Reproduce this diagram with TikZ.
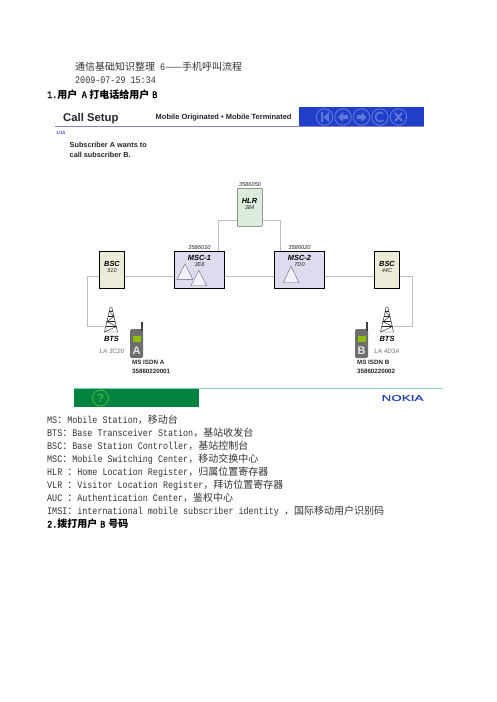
\documentclass[tikz,border=0pt]{standalone}
\usepackage{fontspec}
\setsansfont{Liberation Sans}
\newfontfamily\cnfont{Noto Sans CJK SC}
\newfontfamily\latfont[FakeStretch=0.84]{Liberation Mono}
\newfontfamily\latbold[FakeStretch=0.84,FakeBold=1.5]{Liberation Mono}
\newfontfamily\nokiafont[FakeStretch=1.6,FakeBold=1]{Liberation Sans}
\newcommand{\cn}[1]{{\cnfont #1}}
\definecolor{bluebar}{HTML}{1F3FC8}
\definecolor{navc}{HTML}{5F78DC}
\definecolor{greenbar}{HTML}{00843F}
\definecolor{linkc}{HTML}{BEBEBE}
\definecolor{txtc}{HTML}{333333}
\definecolor{nokia}{HTML}{2444B8}
\definecolor{phonec}{HTML}{6E6E6E}
\definecolor{bscfill}{HTML}{EBEBD7}
\definecolor{mscfill}{HTML}{DCDCEE}
\definecolor{hlrfill}{HTML}{DCECDC}
\definecolor{screenc}{HTML}{8FBF00}
\tikzset{
  doc/.style={anchor=base west,inner sep=0pt,text=txtc,font=\fontsize{10}{10}\latfont},
  head/.style={anchor=base west,inner sep=0pt,text=black,font=\fontsize{10}{10}\latbold},
  netbox/.style={draw=black,line width=.7pt,fill=#1,inner sep=0pt,minimum height=37pt},
  nettitle/.style={inner sep=0pt,font=\sffamily\bfseries\itshape\fontsize{7.4}{7.4}\selectfont},
  netsub/.style={inner sep=0pt,font=\sffamily\itshape\fontsize{5.6}{5.6}\selectfont,text=black!85},
  addr/.style={inner sep=0pt,font=\sffamily\itshape\fontsize{5.7}{5.7}\selectfont,text=black!85},
  link/.style={draw=linkc,line width=.6pt},
  tri/.style={draw=black!60,fill=blue!5,line width=.4pt},
  towerline/.style={draw=black!85,line width=.45pt},
  small/.style={inner sep=0pt,anchor=base west,font=\sffamily\bfseries\fontsize{6.2}{6.2}\selectfont,text=black!85},
  nav/.style={circle,draw=navc,line width=.9pt,minimum size=16.5pt,inner sep=0pt},
  btslabel/.style={inner sep=0pt,font=\sffamily\itshape\bfseries\fontsize{7.5}{7.5}\selectfont},
  lalabel/.style={inner sep=0pt,font=\sffamily\itshape\fontsize{6.3}{6.3}\selectfont,text=black!55},
  hdrtext/.style={inner sep=0pt,anchor=base west,text=black!85},
}
\begin{document}
\begin{tikzpicture}[x=1pt,y=-1pt]
\useasboundingbox (0,0) rectangle (496,702);
\fill[white] (0,0) rectangle (496,702);

% top text
\node[doc] (t1) at (75,70) {\cn{通信基础知识整理}\ 6\cn{——手机呼叫流程}};
\node[doc] (t2) at (75,83.5) {2009-07-29 15:34};
\node[head] (h1) at (47,98) {1.\cn{\bfseries 用户}\hspace{4.5pt}A\hspace{2.5pt}\cn{\bfseries 打电话给用户}\hspace{3pt}B};

% header
\fill[bluebar] (299,107) rectangle (424,126);
\draw[draw=blue!40!gray!70,line width=.6pt] (55,126.5) -- (424,126.5);
\node[hdrtext,font=\sffamily\bfseries\fontsize{11.3}{11.3}\selectfont] (cs) at (63,121.5) {Call Setup};
\node[hdrtext,font=\sffamily\bfseries\fontsize{7.5}{7.5}\selectfont] (mo) at (155.5,119.5) {Mobile Originated • Mobile Terminated};
\node[hdrtext,font=\sffamily\fontsize{4.6}{4.6}\selectfont,text=blue!60!black] (pg) at (56,134.5) {1/15};
\node[hdrtext,font=\sffamily\bfseries\fontsize{7.3}{7.3}\selectfont] (s1) at (69.5,147) {Subscriber A wants to};
\node[hdrtext,font=\sffamily\bfseries\fontsize{7.3}{7.3}\selectfont] (s2) at (69.5,157) {call subscriber B.};

% nav buttons
\node[nav] (n1) at (324.5,117) {};
\node[nav] (n2) at (343,117) {};
\node[nav] (n3) at (361.5,117) {};
\node[nav] (n4) at (380,117) {};
\node[nav] (n5) at (398.5,117) {};
\fill[navc] (321,112) rectangle (323,122) (329,112) -- (329,122) -- (323.5,117) -- cycle;
\fill[navc] (338,117) -- (343,112) -- (343,115) -- (348,115) -- (348,119) -- (343,119) -- (343,122) -- cycle;
\fill[navc] (366.5,117) -- (361.5,112) -- (361.5,115) -- (356.5,115) -- (356.5,119) -- (361.5,119) -- (361.5,122) -- cycle;
\draw[navc,line width=1.6pt] (383.3,113.7) arc[start angle=45,end angle=315,radius=4.6pt];
\draw[navc,line width=2pt] (395,113) -- (402,121) (402,113) -- (395,121);

% network elements
\node[netbox=bscfill,minimum width=25.4pt] (bscL) at (112,269.5) {};
\node[netbox=mscfill,minimum width=50pt] (msc1) at (199.3,269.5) {};
\node[netbox=mscfill,minimum width=50.4pt] (msc2) at (299.5,269.5) {};
\node[netbox=bscfill,minimum width=25.4pt] (bscR) at (387,269.5) {};
\node[draw=black!60,fill=hlrfill,rounded corners=.8pt,line width=.6pt,minimum width=25pt,minimum height=38pt,inner sep=0pt] (hlr) at (249.8,207.3) {};

\node[nettitle] (lb1) at (112,263.5) {BSC};
\node[netsub] (lb2) at (112,270.5) {510};
\node[nettitle] (lm1) at (199.5,257.5) {MSC-1};
\node[netsub] (lm1b) at (199.5,264.5) {3E8};
\node[nettitle] (lm2) at (299.5,257.5) {MSC-2};
\node[netsub] (lm2b) at (299.5,264.5) {7D0};
\node[nettitle] (lb3) at (387,263.5) {BSC};
\node[netsub] (lb4) at (387,270.5) {44C};
\node[nettitle] (lh1) at (249.5,201) {HLR};
\node[netsub] (lh2) at (249.5,208) {384};
\node[addr] (a1) at (250,185) {3586050};
\node[addr] (a2) at (199.5,247.5) {3586010};
\node[addr] (a3) at (299.5,247.5) {3586020};

% triangles
\draw[tri] (177,279.3) -- (185,264) -- (192.7,279.3) -- cycle;
\draw[tri] (191,285.7) -- (198.7,270.3) -- (206.7,285.7) -- cycle;
\draw[tri] (283.3,282.7) -- (291,266.3) -- (299,282.7) -- cycle;

% BTS nodes
\node[inner sep=0pt,minimum width=13pt,minimum height=25pt] (btsL) at (111,319.5) {};
\node[inner sep=0pt,minimum width=13pt,minimum height=25pt] (btsR) at (387,319.5) {};
\foreach \t in {btsL,btsR}{
  \begin{scope}[shift={(\t.center)}]
    \draw[towerline] (-6.5,12.5) -- (-0.8,-12.5) -- (0.8,-12.5) -- (6.5,12.5) -- cycle;
    \draw[towerline] (-3,-3) -- (3,-3) (-4.2,2) -- (4.2,2) (-5.4,7) -- (5.4,7) (-1.8,-8) -- (1.8,-8);
    \draw[towerline] (-1.8,-8) -- (3,-3) -- (-4.2,2) -- (5.4,7) -- (-6.5,12.5);
  \end{scope}
}
\coordinate (cL) at (87.5,326);
\coordinate (cR) at (412.5,326);
\coordinate (hl) at (218.5,220);
\coordinate (hr) at (280.7,220);
\coordinate (wy) at (0,276);

% connectors
\draw[link] (bscL.east |- wy) -- (msc1.west |- wy);
\draw[link] (msc1.east |- wy) -- (msc2.west |- wy);
\draw[link] (msc2.east |- wy) -- (bscR.west |- wy);
\draw[link] (bscL.west |- wy) -| (cL) -- (btsL.west |- cL);
\draw[link] (bscR.east |- wy) -| (cR) -- (btsR.east |- cR);
\draw[link] (hlr.west |- hl) -- (hl) -- (hl |- msc1.north);
\draw[link] (hlr.east |- hr) -- (hr) -- (hr |- msc2.north);

\node[btslabel] (bl1) at (111.5,338.5) {BTS};
\node[btslabel] (bl2) at (387,338.5) {BTS};
\node[lalabel] (la1) at (112,351) {LA 3C20};
\node[lalabel] (la2) at (387,351) {LA 4D3A};

% phones
\foreach \px/\lt in {130/A,355/B}{
  \begin{scope}[shift={(\px,0)}]
    \fill[phonec,rounded corners=1.5pt] (0,329) rectangle (13,358);
    \fill[black!75] (11.3,322) rectangle (13.2,331);
    \fill[screenc] (2.7,335.5) rectangle (11,341.5);
    \node[inner sep=0pt,text=white!80!gray,font=\sffamily\bfseries\fontsize{11}{11}\selectfont] at (6.5,350.5) {\lt};
  \end{scope}
}
\node[small] (m1) at (132,364.5) {MS ISDN A};
\node[small] (m2) at (132,373.5) {35860220001};
\node[small] (m3) at (357,364.5) {MS ISDN B};
\node[small] (m4) at (357,373.5) {35860220002};

% footer
\draw[draw=cyan!50!green!50,line width=.7pt] (74,388.6) -- (443,388.6);
\fill[greenbar] (74,389) rectangle (199,407);
\draw[green!60!black!75,line width=1pt] (100.5,398) circle[radius=8pt];
\node[inner sep=0pt,text=green!60!black!75,font=\sffamily\bfseries\fontsize{12}{12}\selectfont] (q) at (100.5,398) {?};
\node[inner sep=0pt,text=nokia,font=\fontsize{8.4}{8.4}\nokiafont] (nk) at (402.5,398) {NOKIA};

% glossary
\node[doc] (g1) at (47,423) {MS\cn{：}Mobile Station\cn{，移动台}};
\node[doc] (g2) at (47,436) {BTS\cn{：}Base Transceiver Station\cn{，基站收发台}};
\node[doc] (g3) at (47,449.5) {BSC\cn{：}Base Station Controller\cn{，基站控制台}};
\node[doc] (g4) at (47,462) {MSC\cn{：}Mobile Switching Center\cn{，移动交换中心}};
\node[doc] (g5) at (47,475) {HLR \cn{：}Home Location Register\cn{，归属位置寄存器}};
\node[doc] (g6) at (47,488) {VLR \cn{：}Visitor Location Register\cn{，拜访位置寄存器}};
\node[doc] (g7) at (47,501) {AUC \cn{：}Authentication Center\cn{，鉴权中心}};
\node[doc] (g8) at (47,514.5) {IMSI\cn{：}international mobile subscriber identity \cn{，国际移动用户识别码}};
\node[head] (h2) at (47,527.5) {2.\cn{\bfseries 拨打用户}\hspace{3pt}B\hspace{3pt}\cn{\bfseries 号码}};
\end{tikzpicture}
\end{document}
